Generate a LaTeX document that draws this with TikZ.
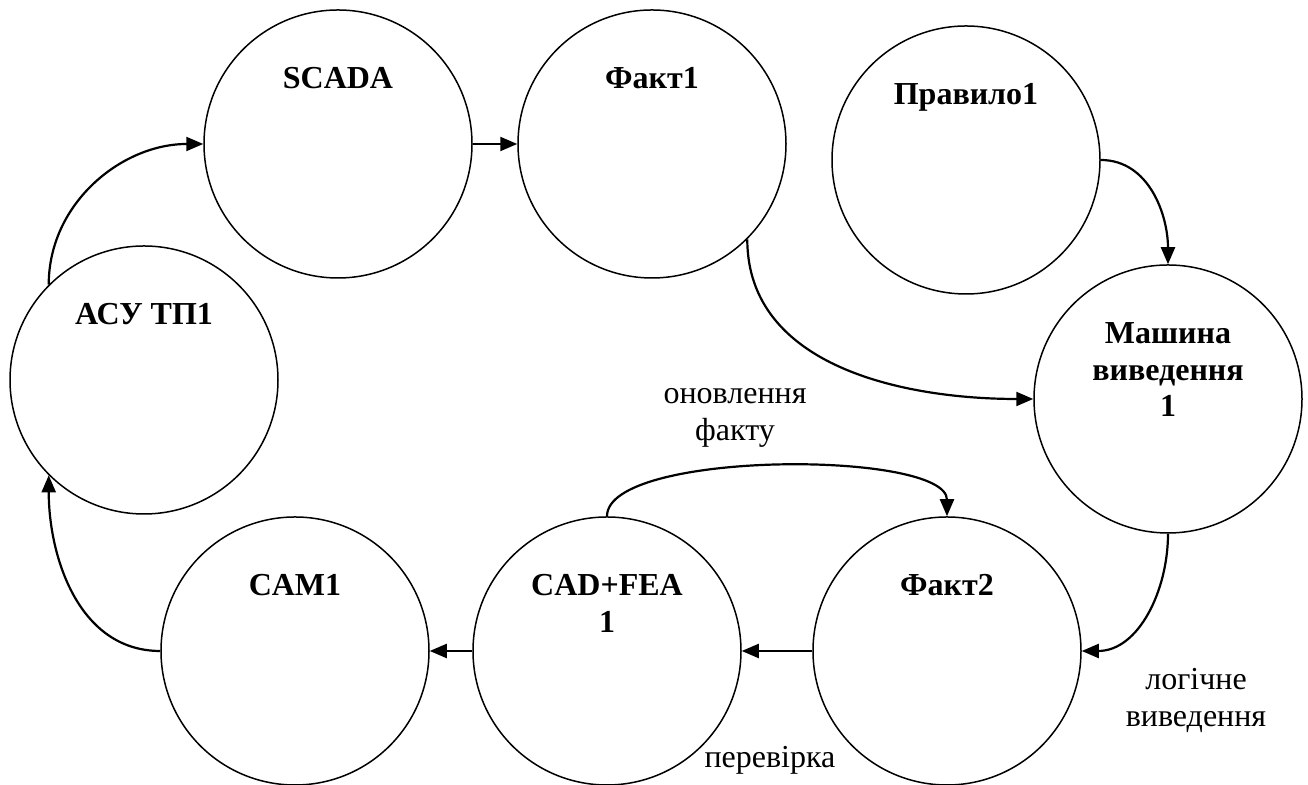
\documentclass[tikz,border=0pt]{standalone}
\usepackage{fontspec}
\setmainfont{Liberation Serif}
\usetikzlibrary{arrows.meta,arrows}
\usetikzlibrary{positioning}

\begin{document}
\begin{tikzpicture}[x=0.5pt,y=0.5pt,>={Triangle[length=8.5pt,width=7pt]}]
\tikzstyle{unit node}=[circle,draw,line width=0.75pt,minimum size=134pt,inner sep=0]
\tikzset{
  unit text/.style = {anchor=north,inner sep=0,yshift=-29pt,align=center,font=\fontsize{16}{18.25}\selectfont\bfseries},
  note/.style = {align=center,inner sep=0,font=\fontsize{16}{18.5}\selectfont}
}
\useasboundingbox (0,0) rectangle (1308,785);

    \node[unit node]  (scada)  at (338,641)  [label={[unit text]north:SCADA}] {};
    \node[unit node]  (fact1)  at (652,641)  [label={[unit text]north:Факт1}] {};
    \node[unit node]  (rule1)  at (966,625)  [label={[unit text]north:Правило1}] {};
    \node[unit node]  (engine) at (1168,386) [label={[unit text]north:{Машина\\виведення\\1}}] {};
    \node[unit node]  (fact2)  at (947,134)  [label={[unit text]north:Факт2}] {};
    \node[unit node]  (cadfea) at (607,134)  [label={[unit text]north:{CAD+FEA\\1}}] {};
    \node[unit node]  (cam1)   at (295,134)  [label={[unit text]north:CAM1}] {};
    \node[unit node]  (asu)    at (144,405)  [label={[unit text]north:АСУ ТП1}] {};
    %%%%%%%%%%%%%%%%%%%%%%%%%%%%%%%%%%%%%%%%%%
    \node[note] (update) at (735,367) {оновлення\\факту};
    \node[note] (infer)  at (1196,84) {логічне\\виведення};
    \node[note] (check)  at (770,25)  {перевірка};

    \path[->,line width=1.1pt]
         (asu.135)   edge[out=90,in=180] (scada)
         (scada)     edge (fact1)
         (fact1.-45) edge[out=-90,in=180] (engine)
         (rule1)     edge[out=0,in=90] (engine)
         (engine)    edge[out=-90,in=0] (fact2)
         (fact2)     edge (cadfea)
         (cadfea)    edge (cam1)
         (cam1)      edge[out=180,in=-90] (asu.-135)
         (cadfea)    edge[out=90,in=90,looseness=0.5] (fact2)
;
\end{tikzpicture}
\end{document}
